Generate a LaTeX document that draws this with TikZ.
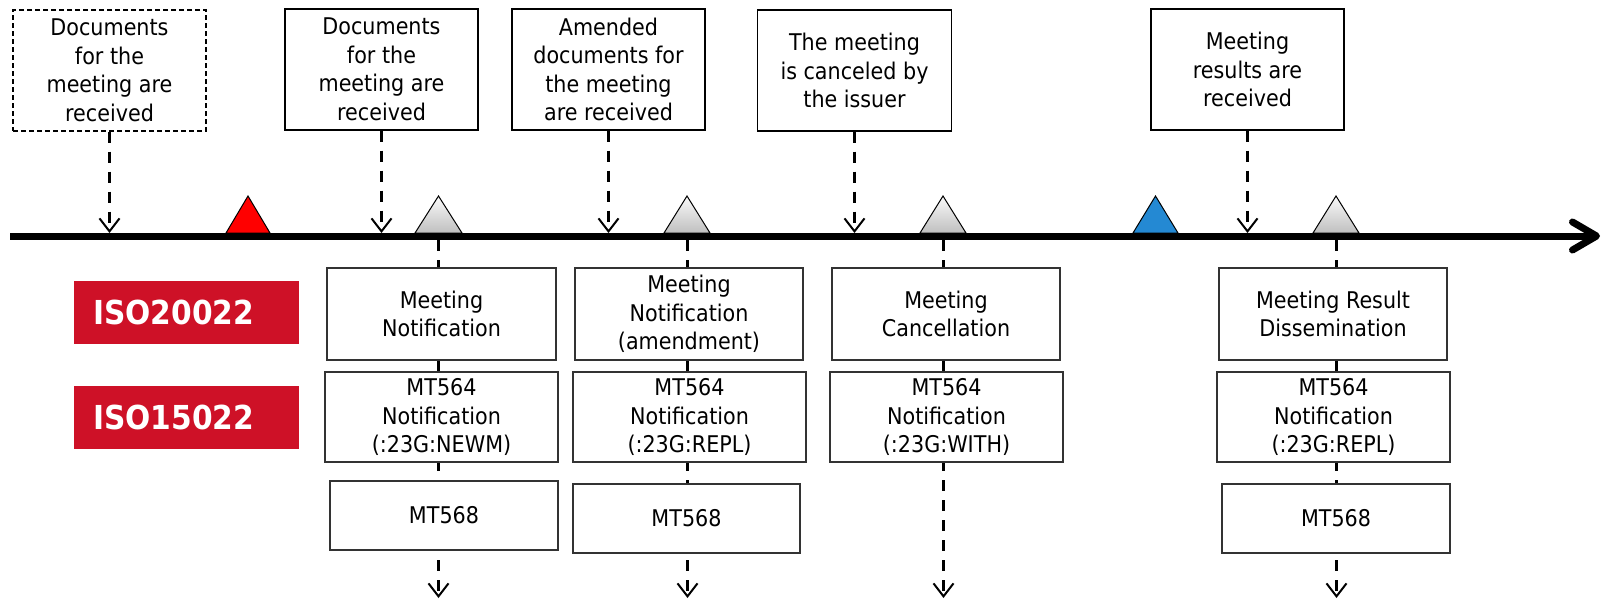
\documentclass[tikz,border=0pt]{standalone}
\usepackage{fontspec}
\setmainfont{DejaVu Sans}[FakeStretch=0.9]
\usetikzlibrary{arrows.meta}
\definecolor{isored}{RGB}{206,17,39}
\definecolor{mblue}{RGB}{36,137,211}
\begin{document}
\begin{tikzpicture}[x=1pt,y=-1pt,
  txt/.style={font=\fontsize{23}{28.5}\selectfont},
  topbox/.style={draw=black, line width=1.1pt, align=center, inner sep=0pt,
    minimum width=193pt, minimum height=121pt, txt},
  msgbox/.style={draw=black!80, line width=1.3pt, fill=white, align=center,
    inner sep=0pt, minimum width=229pt, txt},
  isobox/.style={fill=isored, text=white, align=left, text width=187pt,
    inner xsep=19pt, inner ysep=0pt, minimum height=63pt,
    font=\fontsize{33}{40}\selectfont\bfseries},
  conn/.style={line width=3pt, dash pattern=on 11pt off 9pt,
    -{Straight Barb[length=13pt,width=20pt,line width=2pt]}},
  marker/.style={line width=1pt, draw=black},
  graymarker/.style={marker, top color=gray!4, bottom color=gray!50}
]
\useasboundingbox (0,0) rectangle (1610,600);

% event boxes (top)
\node[topbox, dash pattern=on 5pt off 3pt] (t1) at (109.5,70.5) {Documents\\for the\\meeting are\\received};
\node[topbox] (t2) at (381.5,69.5) {Documents\\for the\\meeting are\\received};
\node[topbox] (t3) at (608.5,69.5) {Amended\\documents for\\the meeting\\are received};
\node[topbox, minimum width=194pt] (t4) at (854.5,70.5) {The meeting\\is canceled by\\the issuer};
\node[topbox] (t5) at (1247.5,69.5) {Meeting\\results are\\received};

% markers on the timeline
\draw[marker, fill=red] (226,233) -- (248,196) -- (270,233) -- cycle;
\draw[graymarker] (415,233) -- (438.5,196) -- (462,233) -- cycle;
\draw[graymarker] (664,233) -- (687,196) -- (710,233) -- cycle;
\draw[graymarker] (920,233) -- (943,196) -- (966,233) -- cycle;
\draw[marker, fill=mblue] (1133,233) -- (1155.5,196) -- (1178,233) -- cycle;
\draw[graymarker] (1313,233) -- (1336,196) -- (1359,233) -- cycle;

% timeline
\coordinate (tl0) at (10,236);
\coordinate (tl1) at (1600,236);
\draw[line width=7pt, -{Straight Barb[round,length=24pt,width=28pt]}] (tl0) -- (tl1);

% arrows from event boxes to timeline
\coordinate (h1) at (109.5,233);
\coordinate (h2) at (381.5,233);
\coordinate (h3) at (608.5,233);
\coordinate (h4) at (854.5,233);
\coordinate (h5) at (1247.5,233);
\draw[conn] (t1.south) -- (h1);
\draw[conn] (t2.south) -- (h2);
\draw[conn] (t3.south) -- (h3);
\draw[conn] (t4.south) -- (h4);
\draw[conn] (t5.south) -- (h5);

% vertical columns below the timeline
\coordinate (c1top) at (438.5,240);  \coordinate (c1bot) at (438.5,598);
\coordinate (c2top) at (687.5,240);  \coordinate (c2bot) at (687.5,598);
\coordinate (c3top) at (943.5,240);  \coordinate (c3bot) at (943.5,598);
\coordinate (c4top) at (1336.5,240); \coordinate (c4bot) at (1336.5,598);
\draw[conn] (c1top) -- (c1bot);
\draw[conn] (c2top) -- (c2bot);
\draw[conn] (c3top) -- (c3bot);
\draw[conn] (c4top) -- (c4bot);

% standard labels
\node[isobox] (iso1) at (186.5,312.5) {ISO20022};
\node[isobox] (iso2) at (186.5,417.5) {ISO15022};

% column 1
\node[msgbox, minimum height=92pt] (a1) at (441.5,314) {Meeting\\Notification};
\node[msgbox, minimum width=233pt, minimum height=90pt] (b1) at (441.5,417) {MT564\\Notification\\(:23G:NEWM)};
\node[msgbox, minimum width=228pt, minimum height=69pt] (m1) at (444,515.5) {MT568};
% column 2
\node[msgbox, minimum width=228pt, minimum height=92pt] (a2) at (689,314) {Meeting\\Notification\\(amendment)};
\node[msgbox, minimum width=233pt, minimum height=90pt] (b2) at (689.5,417) {MT564\\Notification\\(:23G:REPL)};
\node[msgbox, minimum width=227pt, minimum height=69pt] (m2) at (686.5,518.5) {MT568};
% column 3
\node[msgbox, minimum width=228pt, minimum height=92pt] (a3) at (946,314) {Meeting\\Cancellation};
\node[msgbox, minimum width=233pt, minimum height=90pt] (b3) at (946.5,417) {MT564\\Notification\\(:23G:WITH)};
% column 4
\node[msgbox, minimum width=228pt, minimum height=92pt] (a4) at (1333,314) {Meeting Result\\Dissemination};
\node[msgbox, minimum width=233pt, minimum height=90pt] (b4) at (1333.5,417) {MT564\\Notification\\(:23G:REPL)};
\node[msgbox, minimum width=228pt, minimum height=69pt] (m4) at (1336,518.5) {MT568};
\end{tikzpicture}
\end{document}
